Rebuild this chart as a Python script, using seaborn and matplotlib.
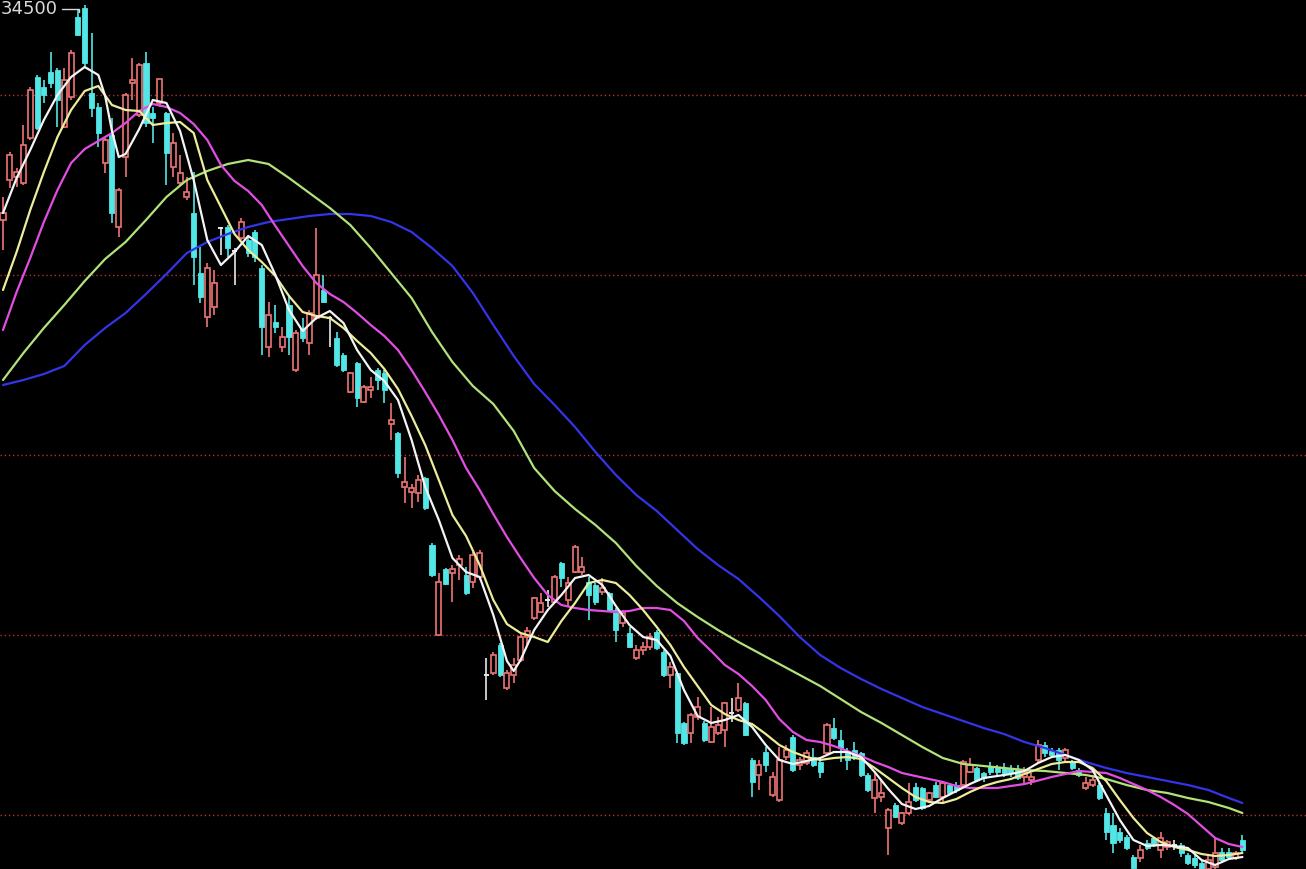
import numpy as np
import pandas as pd
import matplotlib
matplotlib.use("Agg")
import matplotlib.pyplot as plt
import seaborn as sns

# daily candles (price units)
opens = [32350, 32750, 32780, 32720, 33170, 33780, 33680, 33830, 33850, 33280,
         33580, 34380, 34470, 33620, 33480, 32920, 33200, 32280, 32980, 33720,
         33400, 33920, 33420, 33520, 33420, 32880, 32720, 32580, 32420, 31820,
         31380, 31480, 32270, 32280, 32040, 32170, 32150, 32230, 31870, 31080,
         31330, 31080, 31500, 30850, 31270, 31120, 31370, 31650, 31370, 31170,
         31000, 30630, 30920, 30530, 30650, 30850, 30820, 30310, 30220, 29680,
         29630, 29620, 29770, 29100, 28200, 28860, 28820, 28900, 28800, 28730,
         28780, 27800, 27820, 28100, 27670, 27800, 27950, 28180, 28370, 28430,
         28550, 28530, 28920, 28550, 28830, 28830, 28730, 28700, 28630, 28620,
         28450, 28320, 28220, 27970, 28050, 28080, 28230, 28030, 27800, 27820,
         27320, 27220, 27380, 27320, 27130, 27220, 27250, 27420, 27450, 27520,
         26950, 26800, 27030, 26600, 26550, 26980, 27180, 26900, 26920, 26980,
         26930, 27020, 27270, 27150, 27030, 27050, 27020, 26800, 26570, 26580,
         26270, 26500, 26320, 26420, 26680, 26670, 26550, 26700, 26580, 26700,
         26700, 26700, 26830, 26870, 26820, 26880, 26880, 26870, 26870, 26850,
         26780, 26750, 26950, 27100, 27040, 27050, 26970, 26930, 26850, 26670,
         26700, 26700, 26420, 26300, 26230, 26180, 25980, 25970, 26120, 26170,
         26050, 26080, 26100, 26100, 26000, 25970, 25920, 25860, 25880, 26030,
         26030, 25970, 26150]
highs = [32580, 33030, 32870, 33300, 33680, 33800, 33750, 34030, 33870, 33870,
         34050, 34450, 34500, 34220, 33520, 33180, 33370, 32670, 33620, 33970,
         33920, 34030, 33480, 33760, 33430, 33220, 33000, 32780, 32830, 32080,
         31920, 31850, 32280, 32300, 32070, 32370, 32180, 32250, 31900, 31530,
         31500, 31280, 31600, 31250, 31370, 31450, 32270, 31800, 31390, 31230,
         31020, 30830, 30930, 30700, 30780, 30870, 30850, 30520, 30230, 29980,
         29710, 29800, 29780, 29120, 28820, 28870, 28900, 29000, 28880, 29030,
         29050, 27970, 28030, 28120, 27850, 27970, 28220, 28280, 28580, 28620,
         28650, 28800, 28930, 28780, 29100, 28980, 28780, 28720, 28770, 28630,
         28470, 28450, 28280, 28100, 28130, 28220, 28250, 28050, 27930, 27830,
         27330, 27420, 27580, 27340, 27480, 27380, 27530, 27570, 27720, 27530,
         26970, 26950, 27080, 26830, 27080, 27100, 27200, 26980, 27050, 27070,
         26950, 27320, 27370, 27250, 27070, 27130, 27030, 26820, 26830, 26750,
         26470, 26520, 26430, 26720, 26720, 26680, 26630, 26730, 26730, 26720,
         26730, 26950, 26970, 26880, 26830, 26930, 26900, 26920, 26900, 26900,
         26880, 26820, 27150, 27130, 27070, 27070, 27070, 26950, 26870, 26780,
         26800, 26720, 26470, 26420, 26270, 26200, 26000, 26100, 26150, 26180,
         26230, 26150, 26150, 26120, 26020, 26000, 25950, 26000, 26170, 26070,
         26070, 26040, 26200]
lows = [32050, 32670, 32680, 32700, 33150, 33250, 33520, 33670, 33280, 33270,
        33550, 34190, 33890, 33380, 33080, 32820, 32320, 32180, 32780, 33550,
        33380, 33280, 33120, 33480, 32700, 32780, 32700, 32550, 31700, 31520,
        31280, 31400, 32000, 31980, 31700, 32150, 31980, 31930, 31000, 30980,
        31220, 31030, 31000, 30830, 31130, 31000, 31350, 31520, 31080, 30880,
        30830, 30620, 30480, 30520, 30570, 30650, 30520, 30150, 29770, 29520,
        29470, 29530, 29450, 28780, 28200, 28700, 28530, 28750, 28600, 28670,
        28750, 27550, 27800, 27780, 27650, 27720, 27930, 28100, 28350, 28420,
        28480, 28520, 28680, 28480, 28820, 28800, 28350, 28500, 28600, 28430,
        28130, 28280, 28070, 27950, 28000, 28050, 28050, 27780, 27670, 27120,
        27100, 27120, 27350, 27130, 27120, 27200, 27080, 27330, 27430, 27190,
        26580, 26650, 26830, 26580, 26530, 26950, 26830, 26850, 26900, 26880,
        26770, 27000, 27150, 26930, 26850, 26950, 26780, 26630, 26420, 26530,
        26000, 26370, 26300, 26400, 26530, 26450, 26530, 26570, 26530, 26600,
        26620, 26680, 26820, 26730, 26730, 26800, 26780, 26780, 26780, 26750,
        26720, 26700, 26920, 26980, 26970, 26850, 26930, 26850, 26780, 26650,
        26680, 26550, 26150, 26020, 26120, 26050, 25840, 25930, 26050, 26080,
        25970, 26050, 26050, 25980, 25900, 25870, 25800, 25830, 25850, 25920,
        25950, 25950, 26030]
closes = [32420, 33000, 32830, 33100, 33650, 33270, 33600, 33720, 33550, 33750,
          34020, 34200, 33920, 33470, 33220, 33150, 32420, 32650, 33600, 33750,
          33900, 33320, 33370, 33760, 33020, 33120, 32820, 32630, 31980, 31580,
          31870, 31720, 32270, 32070, 32040, 32330, 32020, 31980, 31280, 31400,
          31280, 31180, 31180, 31220, 31170, 31420, 31800, 31530, 31370, 30900,
          30850, 30820, 30570, 30680, 30680, 30750, 30650, 30350, 29820, 29730,
          29670, 29750, 29470, 28800, 28730, 28710, 28860, 28960, 28620, 29000,
          29020, 27800, 28000, 27800, 27820, 27900, 28180, 28240, 28570, 28520,
          28550, 28780, 28770, 28720, 29080, 28880, 28600, 28530, 28670, 28450,
          28250, 28420, 28080, 28050, 28080, 28180, 28070, 27800, 27880, 27220,
          27120, 27400, 27480, 27150, 27280, 27300, 27520, 27420, 27570, 27200,
          26730, 26900, 26900, 26780, 26950, 27050, 26850, 26950, 27020, 26900,
          26830, 27300, 27170, 27070, 26950, 26980, 26800, 26650, 26750, 26620,
          26450, 26380, 26420, 26530, 26550, 26470, 26620, 26580, 26720, 26620,
          26650, 26930, 26900, 26750, 26770, 26830, 26830, 26820, 26820, 26770,
          26830, 26780, 27100, 27020, 27000, 26950, 27050, 26870, 26800, 26720,
          26750, 26570, 26230, 26120, 26150, 26070, 25870, 26050, 26070, 26100,
          26170, 26130, 26100, 26020, 25920, 25900, 25860, 25950, 26020, 25950,
          25980, 26020, 26050]

# moving average lines, read at the listed bar numbers
ma5_bar = [0, 2, 4, 6, 8, 10, 12, 14, 15, 16, 17, 18] + list(range(20, 75, 2)) + [75] + list(range(76, 183, 2))
ma5 = [32420, 32770, 33050, 33350, 33600, 33780, 33880, 33800, 33590, 33240,
       32980, 33010, 33260, 33550, 33520, 33240, 32750, 32150, 31900, 32030,
       32190, 32100, 31800, 31450, 31240, 31370, 31440, 31320, 31050, 30850,
       30740, 30550, 30150, 29680, 29350, 28970, 28830, 28780, 28400, 27940,
       27840, 27950, 28250, 28450, 28600, 28770, 28800, 28700, 28490, 28300,
       28180, 28150, 27990, 27650, 27390, 27320, 27350, 27400, 27280, 27100,
       26950, 26910, 26940, 26970, 27030, 27030, 26980, 26830, 26660, 26510,
       26460, 26490, 26570, 26640, 26710, 26770, 26790, 26810, 26840, 26920,
       26980, 27000, 26950, 26850, 26600, 26350, 26150, 26090, 26100, 26090,
       26070, 25950, 25900, 25960, 25980]

ma10_bar = list(range(0, 183, 2))
ma10 = [31650, 32030, 32450, 32830, 33180, 33450, 33640, 33690, 33500, 33450,
        33440, 33300, 33320, 33330, 33220, 32750, 32480, 32210, 32050, 31930,
        31790, 31590, 31430, 31390, 31370, 31270, 31140, 31020, 30860, 30660,
        30390, 30100, 29750, 29400, 29190, 28900, 28550, 28310, 28220, 28180,
        28130, 28340, 28520, 28720, 28750, 28720, 28600, 28450, 28280, 28100,
        27880, 27690, 27500, 27410, 27350, 27310, 27210, 27100, 27030, 26980,
        26950, 26970, 26980, 26960, 26870, 26770, 26670, 26580, 26530, 26520,
        26560, 26630, 26690, 26730, 26760, 26810, 26860, 26910, 26930, 26930,
        26870, 26740, 26550, 26370, 26220, 26130, 26080, 26050, 26010, 25990,
        26000, 26020]

ma20_bar = list(range(0, 143, 2)) + [146, 150, 154, 158, 162] + list(range(164, 183, 2))
ma20 = [31250, 31630, 31970, 32330, 32650, 32920, 33060, 33140, 33220, 33320,
        33440, 33510, 33480, 33420, 33310, 33150, 32900, 32740, 32640, 32500,
        32290, 32090, 31890, 31720, 31610, 31530, 31420, 31300, 31190, 31050,
        30850, 30630, 30400, 30150, 29870, 29650, 29410, 29180, 28970, 28770,
        28600, 28500, 28470, 28450, 28440, 28430, 28440, 28470, 28470, 28450,
        28340, 28170, 28040, 27900, 27810, 27690, 27550, 27360, 27230, 27150,
        27130, 27090, 27040, 26990, 26930, 26880, 26820, 26790, 26760, 26730,
        26690, 26670, 26670, 26710, 26780, 26840, 26820, 26770, 26710, 26650,
        26580, 26500, 26410, 26290, 26170, 26110, 26080]

ma30_bar = list(range(0, 181, 3)) + [182]
ma30 = [30750, 31020, 31270, 31500, 31740, 31960, 32130, 32350, 32580, 32750,
        32840, 32910, 32950, 32910, 32770, 32620, 32470, 32300, 32070, 31820,
        31570, 31230, 30930, 30690, 30510, 30240, 29870, 29640, 29460, 29300,
        29120, 28890, 28690, 28520, 28380, 28250, 28130, 28020, 27910, 27800,
        27690, 27560, 27430, 27320, 27200, 27080, 26970, 26910, 26890, 26870,
        26850, 26840, 26820, 26800, 26760, 26700, 26650, 26620, 26570, 26530,
        26470, 26420]

ma60_bar = list(range(0, 181, 3)) + [182]
ma60 = [30700, 30750, 30810, 30890, 31100, 31270, 31420, 31610, 31810, 32020,
        32130, 32210, 32280, 32330, 32360, 32390, 32410, 32410, 32390, 32330,
        32230, 32070, 31890, 31620, 31300, 30990, 30710, 30500, 30280, 30030,
        29800, 29600, 29440, 29250, 29060, 28900, 28760, 28580, 28390, 28180,
        28000, 27870, 27760, 27660, 27570, 27480, 27410, 27340, 27270, 27210,
        27130, 27070, 27000, 26930, 26870, 26820, 26780, 26740, 26700, 26650,
        26570, 26520]

grid_levels = [33600, 31800, 30000, 28200, 26400]

RED = "#f07474"
CYAN = "#52e6e6"

sns.set_theme(style="dark", rc={"axes.facecolor": "black", "figure.facecolor": "black"})
plt.rcParams["font.family"] = ["DejaVu Sans"]

fig = plt.figure(figsize=(13.06, 8.69), dpi=100)
fig.patch.set_facecolor("black")
ax = fig.add_axes([0, 0, 1, 1])
ax.set_facecolor("black")

bars = np.arange(len(opens))
o = np.array(opens, dtype=float)
h = np.array(highs, dtype=float)
l = np.array(lows, dtype=float)
c = np.array(closes, dtype=float)
up = c > o
down = c < o
flat = c == o
top = np.maximum(o, c)
bot = np.minimum(o, c)
w = 0.74

# dotted price grid
for g in grid_levels:
    ax.axhline(g, color="#b83030", lw=1.0, ls=(0, (1, 2)), zorder=1)

# falling candles: solid cyan
ax.vlines(bars[down], l[down], h[down], color=CYAN, lw=1.2, zorder=2)
ax.bar(bars[down], top[down] - bot[down], bottom=bot[down], width=w,
       color=CYAN, edgecolor=CYAN, linewidth=0.6, zorder=3)

# rising candles: hollow red
ax.vlines(bars[up], top[up], h[up], color=RED, lw=1.2, zorder=2)
ax.vlines(bars[up], l[up], bot[up], color=RED, lw=1.2, zorder=2)
ax.bar(bars[up], top[up] - bot[up], bottom=bot[up], width=w,
       facecolor="black", edgecolor=RED, linewidth=1.2, zorder=3)

# doji
ax.vlines(bars[flat], l[flat], h[flat], color="#e8e8e8", lw=1.2, zorder=2)
ax.hlines(c[flat], bars[flat] - w / 2, bars[flat] + w / 2, color="#e8e8e8", lw=1.4, zorder=3)

# moving averages
lines = [
    (ma60_bar, ma60, "#3434e8"),
    (ma30_bar, ma30, "#b2e27a"),
    (ma20_bar, ma20, "#e24ee2"),
    (ma10_bar, ma10, "#ecec9a"),
    (ma5_bar, ma5, "#f4f4f4"),
]
for xs, ys, col in lines:
    df = pd.DataFrame({"bar": xs, "price": ys})
    sns.lineplot(data=df, x="bar", y="price", color=col, linewidth=1.6,
                 ax=ax, legend=False, zorder=4)

# highest price marker
hi_idx = int(np.argmax(h))
hi = h[hi_idx]
ax.annotate(f"{hi:.0f}", xy=(hi_idx - 0.9, hi - 70), xytext=(-0.4, hi - 40),
            textcoords="data", color="#d8d8d8", fontsize=13, ha="left", va="center",
            arrowprops=dict(arrowstyle="-", color="#d8d8d8", lw=1.0, shrinkA=1, shrinkB=0,
                            connectionstyle="angle,angleA=0,angleB=90,rad=0"),
            zorder=5)

ax.set_xlim(-0.44, 191.34)
ax.set_ylim(25860, 34550)
ax.axis("off")

fig.savefig("out.png", dpi=100, facecolor="black")
